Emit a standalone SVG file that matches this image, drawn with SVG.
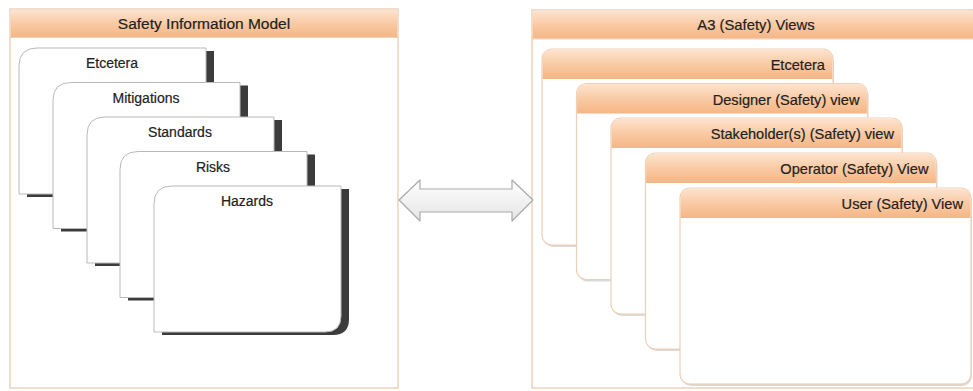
<svg xmlns="http://www.w3.org/2000/svg" width="973" height="391" viewBox="0 0 973 391">
  <defs>
    <linearGradient id="hdr" x1="0" y1="0" x2="0" y2="1">
      <stop offset="0" stop-color="#fde3cf"/>
      <stop offset="0.5" stop-color="#f9caa4"/>
      <stop offset="1" stop-color="#f5b685"/>
    </linearGradient>
    <linearGradient id="arrowFill" x1="0" y1="0" x2="0" y2="1">
      <stop offset="0" stop-color="#ffffff"/>
      <stop offset="1" stop-color="#e4e4e4"/>
    </linearGradient>
    <!-- left stacked card: rounded top-left and bottom-right corners -->
    <path id="leftCard" d="M0,18 Q0,0 18,0 L187,0 L187,130 Q187,146 171,146 L0,146 Z"/>
  </defs>
  <style>
    .frame { fill: #ffffff; stroke: #ecd2bd; stroke-width: 1.5; }
    .band { fill: url(#hdr); stroke: none; }
    .title { font-family: "Liberation Sans", Arial, sans-serif; fill: #222222; text-anchor: middle; stroke: #222222; stroke-width: 0.2; }
    .lcard { fill: #ffffff; stroke: #b9b9b9; stroke-width: 1; }
    .lshadow { fill: #3c3c3c; }
    .ltext { font-family: "Liberation Sans", Arial, sans-serif; font-size: 14px; fill: #222222; text-anchor: middle; stroke: #222222; stroke-width: 0.2; }
    .rshadow { fill: #d9d9d9; }
    .rbody { fill: #ffffff; stroke: #efcfb5; stroke-width: 1.2; }
    .rtext { font-family: "Liberation Sans", Arial, sans-serif; font-size: 14.6px; fill: #222222; text-anchor: end; stroke: #222222; stroke-width: 0.2; }
  </style>

  <!-- Safety Information Model container -->
  <g id="safety-information-model">
    <rect class="frame" x="10" y="9" width="388" height="379"/>
    <rect class="band" x="10.75" y="9.75" width="386.5" height="27.5"/>
    <line x1="10" y1="37.5" x2="398" y2="37.5" stroke="#ecd2bd" stroke-width="1"/>
    <text class="title" x="204" y="28.5" font-size="15.5">Safety Information Model</text>
  </g>

  <g id="card-etcetera-left" transform="translate(19,48)">
    <use href="#leftCard" class="lshadow" x="8" y="3"/>
    <use href="#leftCard" class="lcard"/>
    <text class="ltext" x="93" y="20">Etcetera</text>
  </g>
  <g id="card-mitigations" transform="translate(53,82.5)">
    <use href="#leftCard" class="lshadow" x="8" y="3"/>
    <use href="#leftCard" class="lcard"/>
    <text class="ltext" x="93" y="20">Mitigations</text>
  </g>
  <g id="card-standards" transform="translate(87,117)">
    <use href="#leftCard" class="lshadow" x="8" y="3"/>
    <use href="#leftCard" class="lcard"/>
    <text class="ltext" x="93" y="20">Standards</text>
  </g>
  <g id="card-risks" transform="translate(120,151.5)">
    <use href="#leftCard" class="lshadow" x="8" y="3"/>
    <use href="#leftCard" class="lcard"/>
    <text class="ltext" x="93" y="20">Risks</text>
  </g>
  <g id="card-hazards" transform="translate(154,186)">
    <use href="#leftCard" class="lshadow" x="8" y="3"/>
    <use href="#leftCard" class="lcard"/>
    <text class="ltext" x="93" y="20" font-size="14.5">Hazards</text>
  </g>

  <!-- A3 (Safety) Views container -->
  <g id="a3-safety-views">
    <rect class="frame" x="532" y="10" width="450" height="378"/>
    <rect class="band" x="532.75" y="10.75" width="449" height="28"/>
    <line x1="532" y1="39" x2="982" y2="39" stroke="#ecd2bd" stroke-width="1"/>
    <text class="title" x="756" y="30" font-size="14.8">A3 (Safety) Views</text>
  </g>

  <g id="view-etcetera" transform="translate(542,49)">
    <rect class="rshadow" x="1" y="2" width="291" height="196" rx="10"/>
    <rect class="rbody" x="0" y="0" width="291" height="196" rx="10"/>
    <path class="band" d="M0.6,30 L0.6,10 Q0.6,0.6 10,0.6 L281,0.6 Q290.4,0.6 290.4,10 L290.4,30 Z"/>
    <text class="rtext" x="283" y="21">Etcetera</text>
  </g>
  <g id="view-designer" transform="translate(576.5,83.5)">
    <rect class="rshadow" x="1" y="2" width="291" height="196" rx="10"/>
    <rect class="rbody" x="0" y="0" width="291" height="196" rx="10"/>
    <path class="band" d="M0.6,30 L0.6,10 Q0.6,0.6 10,0.6 L281,0.6 Q290.4,0.6 290.4,10 L290.4,30 Z"/>
    <text class="rtext" x="283" y="21">Designer (Safety) view</text>
  </g>
  <g id="view-stakeholders" transform="translate(611,118)">
    <rect class="rshadow" x="1" y="2" width="291" height="196" rx="10"/>
    <rect class="rbody" x="0" y="0" width="291" height="196" rx="10"/>
    <path class="band" d="M0.6,30 L0.6,10 Q0.6,0.6 10,0.6 L281,0.6 Q290.4,0.6 290.4,10 L290.4,30 Z"/>
    <text class="rtext" x="283" y="21">Stakeholder(s) (Safety) view</text>
  </g>
  <g id="view-operator" transform="translate(645.5,153)">
    <rect class="rshadow" x="1" y="2" width="291" height="196" rx="10"/>
    <rect class="rbody" x="0" y="0" width="291" height="196" rx="10"/>
    <path class="band" d="M0.6,30 L0.6,10 Q0.6,0.6 10,0.6 L281,0.6 Q290.4,0.6 290.4,10 L290.4,30 Z"/>
    <text class="rtext" x="283" y="21">Operator (Safety) View</text>
  </g>
  <g id="view-user" transform="translate(680,188)">
    <rect class="rshadow" x="1" y="2" width="291" height="196" rx="10"/>
    <rect class="rbody" x="0" y="0" width="291" height="196" rx="10"/>
    <path class="band" d="M0.6,30 L0.6,10 Q0.6,0.6 10,0.6 L281,0.6 Q290.4,0.6 290.4,10 L290.4,30 Z"/>
    <text class="rtext" x="283" y="21">User (Safety) View</text>
  </g>

  <!-- connectors -->
  <g id="connectors">
    <path d="M399,200 L420,180 L420,189 L512,189 L512,180 L533,200 L512,221 L512,212 L420,212 L420,221 Z"
          fill="url(#arrowFill)" stroke="#a9a9a9" stroke-width="1.2" stroke-linejoin="round"/>
  </g>
</svg>
